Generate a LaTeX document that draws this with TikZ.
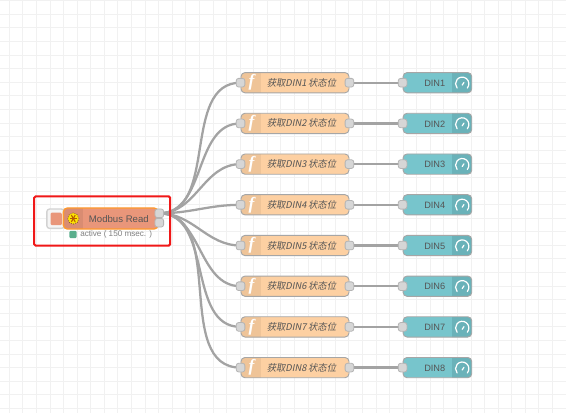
\documentclass[tikz,border=0pt]{standalone}
\usepackage{fontspec}
\setmainfont{Liberation Sans}
\newfontfamily\cjkslant[FakeSlant=0.2]{Noto Sans CJK SC}
\newfontfamily\ficonfont{Liberation Serif}
\usepackage{tikz}
\usetikzlibrary{positioning, calc, backgrounds}

\definecolor{gridcol}{HTML}{F1F1F1}
\definecolor{wirecol}{HTML}{A3A3A3}
\definecolor{nodeedge}{HTML}{A6A6A6}
\definecolor{portedge}{HTML}{B4B4B4}
\definecolor{portfill}{HTML}{D6D6D6}
\definecolor{textcol}{HTML}{555555}
\definecolor{fncol}{HTML}{FDD0A2}
\definecolor{fnband}{HTML}{EFC498}
\definecolor{gaugecol}{HTML}{77C5CC}
\definecolor{gaugeband}{HTML}{6AB2B9}
\definecolor{modcol}{HTML}{E9967A}
\definecolor{modband}{HTML}{D98C72}
\definecolor{selcol}{HTML}{FF9A2E}
\definecolor{redbox}{HTML}{F01818}
\definecolor{okcol}{HTML}{5AAE8C}

\tikzset{
    fnbox/.style={draw=nodeedge, line width=0.7pt, fill=fncol, rounded corners=3pt, minimum width=81pt, minimum height=15.2pt, inner sep=0pt,
        path picture={\fill[fnband, sharp corners] (path picture bounding box.north west) rectangle ++(15pt,-16pt);}},
    gaugebox/.style={draw=nodeedge, line width=0.7pt, fill=gaugecol, rounded corners=3pt, minimum width=51.5pt, minimum height=15.2pt, inner sep=0pt,
        path picture={\fill[gaugeband, sharp corners] (path picture bounding box.north east) rectangle ++(-15pt,-16pt);}},
    modbox/.style={draw=selcol, line width=1pt, fill=modcol, rounded corners=3pt, minimum width=71pt, minimum height=15.8pt, inner sep=0pt,
        path picture={\fill[modband, sharp corners] (path picture bounding box.north west) rectangle ++(15pt,-16pt);}},
    port/.style={draw=portedge, line width=0.6pt, fill=portfill, rounded corners=1.8pt, minimum size=6.5pt, inner sep=0pt},
    wire/.style={draw=wirecol, line width=1.7pt},
    gridline/.style={draw=gridcol, line width=0.7pt},
    fnlabel/.style={font=\fontsize{7}{8}\cjkslant, text=textcol, inner sep=0pt, anchor=west},
    plainlabel/.style={font=\fontsize{7.1}{8}\selectfont, text=textcol, inner sep=0pt},
    ficon/.style={font=\fontsize{13}{13}\ficonfont\bfseries\itshape, text=white, inner sep=0pt},
    gaugeicon/.style={draw=white, line width=0.9pt, line cap=round}
}

\begin{document}
\begin{tikzpicture}[x=0.75pt, y=-0.75pt]
    \useasboundingbox (0,0) rectangle (566,415);

    % Inject node with its button
    \node[draw=gray!35, line width=1pt, fill=gray!8, rounded corners=2pt, minimum width=13pt, minimum height=14.5pt, inner sep=0pt] (button) at (55.5,218.7) {};
    \node[fill=modcol, rounded corners=1pt, minimum width=8.5pt, minimum height=9.5pt, inner sep=0pt] (buttonfill) at (56.2,218.9) {};
    \node[modbox] (modbus) at (110.7,218.5) {};
    \node[circle, draw=brown!70!black, densely dotted, line width=0.6pt, fill=yellow!85!orange, minimum size=8.4pt, inner sep=0pt] (modicon) at (73.3,218.5) {};
    \foreach \a in {0,60,120}
        \draw[orange!70!black, line width=0.8pt] ([shift={(\a:2.8pt)}]modicon.center) -- ([shift={(\a+180:2.8pt)}]modicon.center);
    \node[plainlabel, anchor=west, font=\fontsize{7.2}{8}\selectfont] (modlabel) at ($(modbus.west)+(26,0.4)$) {Modbus Read};
    \node[port] (modout1) at (159.3,213.3) {};
    \node[port] (modout2) at (159.3,222.7) {};

    % Status line
    \node[fill=okcol, rounded corners=1pt, minimum size=5.6pt, inner sep=0pt] (statusdot) at (73,234.5) {};
    \node[plainlabel, anchor=west, font=\fontsize{6.1}{8}\selectfont, text=gray] (statuslabel) at (80,234.7) {active ( 150 msec. )};

    % Function and gauge rows
    \foreach \i in {1,...,8} {
        \pgfmathsetmacro{\rowy}{82.7+40.7*(\i-1)}
        \node[fnbox] (fn\i) at (295,\rowy) {};
        \node[ficon] (ficon\i) at ($(fn\i.west)+(11,0)$) {f};
        \node[fnlabel] (fnlabel\i) at ($(fn\i.west)+(26,0)$) {获取DIN\i\,状态位};
        \node[port] (fnin\i) at (fn\i.west) {};
        \node[port] (fnout\i) at (fn\i.east) {};
        \node[gaugebox] (din\i) at (437.4,\rowy) {};
        \node[plainlabel, anchor=east, font=\fontsize{6.9}{8}\selectfont] (dinlabel\i) at ($(din\i.east)+(-26.7,0.5)$) {DIN\i};
        \node[port] (dinin\i) at (din\i.west) {};
        \draw[gaugeicon] ([shift={(-3.67pt,-4pt)}]din\i.east) arc[start angle=-40, delta angle=260, radius=5pt];
        \draw[gaugeicon] ([shift={(-7.5pt,-1.8pt)}]din\i.east) -- ++(1.3pt,2pt);
    }

    % Selection box
    \node[draw=redbox, line width=1.5pt, rounded corners=1pt, minimum width=102pt, minimum height=36.8pt, inner sep=0pt] (selection) at (102.2,221) {};

    \begin{pgfonlayer}{background}
        % Canvas grid
        \fill[white] (0,0) rectangle (566,415);
        \foreach \n in {0,...,40}
            \draw[gridline] ({9.3+13.58*\n},0) -- ({9.3+13.58*\n},413);
        \foreach \n in {0,...,30}
            \draw[gridline] (0,{0.7+13.59*\n}) -- (566,{0.7+13.59*\n});
        % Wires
        \foreach \i in {1,...,8} {
            \draw[wire] (modout1.center) to[out=0, in=180] (fnin\i.center);
            \draw[wire] (fnout\i.center) -- (dinin\i.center);
        }
    \end{pgfonlayer}
\end{tikzpicture}
\end{document}
